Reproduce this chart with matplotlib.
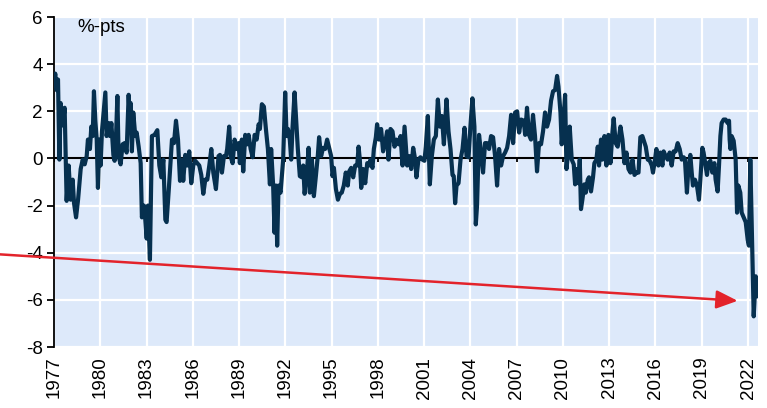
import numpy as np
import matplotlib
matplotlib.use("Agg")
import matplotlib.pyplot as plt

plt.rcParams['font.family'] = ['Liberation Sans', 'DejaVu Sans']

# series (decimal year, %-pts)
years = [
    1977.00, 1977.08, 1977.17, 1977.26, 1977.35, 1977.43, 1977.56, 1977.69, 1977.82, 1977.95,
    1978.08, 1978.21, 1978.30, 1978.43, 1978.56, 1978.73, 1978.86, 1978.99, 1979.12, 1979.20,
    1979.33, 1979.42, 1979.51, 1979.59, 1979.68, 1979.77, 1979.85, 1979.94, 1980.02, 1980.11,
    1980.24, 1980.33, 1980.41, 1980.54, 1980.63, 1980.72, 1980.85, 1980.93, 1981.02, 1981.11,
    1981.19, 1981.32, 1981.45, 1981.58, 1981.71, 1981.84, 1981.93, 1981.97, 1982.05, 1982.14,
    1982.27, 1982.36, 1982.49, 1982.62, 1982.70, 1982.83, 1982.92, 1983.01, 1983.09, 1983.22,
    1983.35, 1983.52, 1983.70, 1983.83, 1983.96, 1984.09, 1984.22, 1984.30, 1984.45, 1984.65,
    1984.78, 1984.91, 1985.04, 1985.17, 1985.30, 1985.38, 1985.51, 1985.64, 1985.77, 1985.90,
    1986.03, 1986.16, 1986.29, 1986.42, 1986.55, 1986.68, 1986.81, 1986.94, 1987.07, 1987.20,
    1987.33, 1987.50, 1987.67, 1987.76, 1987.89, 1988.02, 1988.15, 1988.23, 1988.36, 1988.45,
    1988.58, 1988.71, 1988.84, 1988.97, 1989.05, 1989.18, 1989.27, 1989.40, 1989.53, 1989.62,
    1989.75, 1989.88, 1990.01, 1990.14, 1990.27, 1990.35, 1990.48, 1990.61, 1990.74, 1990.87,
    1991.00, 1991.08, 1991.21, 1991.30, 1991.39, 1991.47, 1991.56, 1991.69, 1991.86, 1991.99,
    1992.08, 1992.17, 1992.29, 1992.38, 1992.47, 1992.60, 1992.73, 1992.81, 1992.94, 1993.07,
    1993.16, 1993.25, 1993.38, 1993.51, 1993.59, 1993.72, 1993.85, 1993.98, 1994.11, 1994.19,
    1994.32, 1994.45, 1994.58, 1994.71, 1994.84, 1994.97, 1995.06, 1995.15, 1995.28, 1995.41,
    1995.54, 1995.66, 1995.79, 1995.92, 1996.05, 1996.14, 1996.27, 1996.40, 1996.53, 1996.66,
    1996.75, 1996.83, 1996.92, 1997.05, 1997.18, 1997.31, 1997.43, 1997.52, 1997.65, 1997.74,
    1997.87, 1997.95, 1998.08, 1998.21, 1998.34, 1998.47, 1998.60, 1998.69, 1998.82, 1998.95,
    1999.08, 1999.21, 1999.34, 1999.47, 1999.60, 1999.73, 1999.90, 2000.03, 2000.16, 2000.29,
    2000.42, 2000.50, 2000.63, 2000.76, 2000.89, 2001.02, 2001.11, 2001.24, 2001.37, 2001.50,
    2001.63, 2001.76, 2001.89, 2002.02, 2002.15, 2002.28, 2002.45, 2002.58, 2002.71, 2002.84,
    2002.92, 2003.01, 2003.10, 2003.23, 2003.36, 2003.49, 2003.62, 2003.75, 2003.88, 2004.00,
    2004.13, 2004.26, 2004.35, 2004.43, 2004.56, 2004.69, 2004.82, 2004.95, 2005.08, 2005.21,
    2005.34, 2005.47, 2005.60, 2005.73, 2005.86, 2005.99, 2006.12, 2006.25, 2006.38, 2006.51,
    2006.64, 2006.77, 2006.90, 2007.03, 2007.16, 2007.29, 2007.46, 2007.55, 2007.67, 2007.80,
    2007.93, 2008.06, 2008.19, 2008.32, 2008.45, 2008.58, 2008.71, 2008.84, 2008.97, 2009.10,
    2009.23, 2009.36, 2009.49, 2009.62, 2009.71, 2009.84, 2009.92, 2010.01, 2010.14, 2010.23,
    2010.36, 2010.44, 2010.57, 2010.70, 2010.79, 2010.88, 2011.01, 2011.09, 2011.17, 2011.26,
    2011.39, 2011.48, 2011.61, 2011.69, 2011.82, 2011.95, 2012.04, 2012.17, 2012.26, 2012.34,
    2012.47, 2012.56, 2012.69, 2012.82, 2012.95, 2013.08, 2013.21, 2013.29, 2013.42, 2013.55,
    2013.73, 2013.86, 2013.99, 2014.12, 2014.25, 2014.38, 2014.51, 2014.64, 2014.77, 2014.90,
    2015.02, 2015.15, 2015.37, 2015.50, 2015.63, 2015.76, 2015.84, 2015.97, 2016.06, 2016.19,
    2016.32, 2016.45, 2016.53, 2016.66, 2016.79, 2016.92, 2017.05, 2017.18, 2017.31, 2017.44,
    2017.57, 2017.70, 2017.83, 2017.91, 2018.04, 2018.13, 2018.26, 2018.35, 2018.43, 2018.56,
    2018.69, 2018.82, 2018.91, 2019.04, 2019.12, 2019.25, 2019.34, 2019.43, 2019.56, 2019.69,
    2019.82, 2019.90, 2020.03, 2020.12, 2020.21, 2020.29, 2020.42, 2020.55, 2020.68, 2020.77,
    2020.81, 2020.86, 2020.94, 2021.07, 2021.20, 2021.29, 2021.37, 2021.50, 2021.59, 2021.72,
    2021.85, 2021.98, 2022.06, 2022.15, 2022.37, 2022.50, 2022.60,
]
values = [
    3.1, 3.6, 2.9, 3.35, -0.05, 2.35, 1.4, 2.15, -1.8, -0.3,
    -1.75, -0.9, -1.9, -2.5, -1.75, -0.45, -0.05, -0.25, 0.1, 0.8,
    0.4, 1.35, 0.95, 2.85, 1.6, 0.8, -1.25, 0.8, -0.3, 1.15,
    2.1, 2.8, 0.95, 1.5, 0.95, 1.5, 0.15, -0.1, 0.9, 2.65,
    0.1, -0.25, 0.6, 0.65, 0.25, 2.7, 1.5, 2.35, 0.3, 1.95,
    0.95, 1.1, 0.5, -0.2, -2.5, -2.0, -2.6, -3.4, -2.0, -4.3,
    0.95, 1.0, 1.2, -0.3, -0.8, -0.05, -2.6, -2.7, -1.25, 0.8,
    0.65, 1.6, 0.8, -0.95, -0.05, -0.95, 0.15, -0.3, 0.3, -1.05,
    -0.3, -0.1, -0.2, -0.3, -0.7, -1.5, -0.9, -0.9, -0.3, 0.4,
    -0.6, -1.3, 0.1, 0.15, -0.6, 0.1, 0.1, 0.4, 1.35, 0.1,
    -0.2, 0.8, 0.4, 0.65, -0.2, 0.8, -0.55, 1.0, 0.6, 1.0,
    0.4, 0.05, 1.0, 0.8, 1.45, 1.25, 2.3, 2.2, 1.25, 0.4,
    -1.1, 0.4, -1.15, -3.15, -1.15, -3.7, -1.15, -1.45, -0.05, 2.8,
    0.95, 1.25, 0.8, -0.05, 1.35, 2.8, 1.35, 0.4, -0.75, -0.8,
    -0.3, -1.5, -0.75, 0.45, -1.45, -0.05, -1.6, -0.75, 0.15, 0.9,
    0.1, 0.45, 0.4, 0.8, 0.45, 0.1, -0.75, -0.4, -1.3, -1.75,
    -1.5, -1.45, -1.15, -0.6, -1.15, -0.55, -0.4, -0.8, -0.3, -0.3,
    0.5, -0.05, -1.25, -0.45, -1.05, -0.2, -0.3, -0.05, -0.4, 0.4,
    0.9, 1.45, 0.8, 1.25, 0.3, 0.65, 1.15, -0.05, 1.25, 1.15,
    0.5, 0.8, 0.6, 0.95, -0.3, 1.35, -0.3, 0.1, -0.45, 0.45,
    -0.05, -0.8, -0.05, 0.05, -0.05, -0.1, 0.5, 1.8, -1.1, 0.1,
    0.8, 0.95, 2.5, 1.35, 1.8, 0.6, 2.5, 1.15, 0.4, -0.7,
    -0.75, -1.9, -1.15, -1.05, -0.05, 0.4, 1.3, 0.1, 0.05, 1.35,
    2.55, 1.35, -2.8, -2.0, 1.0, 0.25, -0.6, 0.65, 0.65, 0.4,
    0.95, 0.9, 0.1, -1.15, 0.4, -0.3, 0.1, 0.25, 0.45, 0.95,
    1.85, 0.65, 1.95, 2.0, 1.1, 1.65, 1.6, 1.0, 2.15, 1.0,
    0.8, 1.85, 0.95, -0.55, 0.65, 0.6, 1.15, 1.95, 1.35, 1.65,
    2.45, 2.85, 2.9, 3.5, 3.05, 1.95, 0.6, 1.35, 2.7, -0.45,
    0.4, 1.35, -0.05, -0.25, -1.1, -0.45, -1.05, -0.05, -2.15, -1.75,
    -1.1, -1.45, -0.9, -0.8, -1.4, -0.8, -0.2, -0.05, 0.5, -0.3,
    0.8, -0.05, 0.95, -0.3, 1.0, -0.2, 1.1, 1.7, 0.65, 0.5,
    1.35, 0.8, -0.2, 0.25, -0.45, -0.6, -0.05, -0.7, -0.6, -0.6,
    0.9, 0.95, 0.5, -0.05, -0.1, -0.3, -0.6, -0.05, 0.4, -0.3,
    0.25, -0.3, 0.3, 0.1, -0.05, 0.25, -0.3, 0.3, 0.3, 0.65,
    0.4, -0.05, 0.05, -0.05, -1.45, -0.45, 0.15, -0.6, -1.15, -0.9,
    -1.15, -1.75, -0.9, 0.45, 0.25, -0.3, -0.7, -0.2, -0.1, -0.6,
    -0.2, -0.9, -1.4, -0.3, 0.95, 1.5, 1.65, 1.65, 1.5, 1.6,
    0.8, 0.4, 0.95, 0.75, -0.05, -2.3, -1.15, -1.45, -2.3, -2.5,
    -2.7, -3.45, -3.7, -0.05, -6.7, -5.0, -5.85,
]

tick_years = list(range(1977, 2023, 3))
yticks = list(range(-8, 7, 2))

# red arrow: from left of the axes to the 2022 trough
arrow_start = (1973.5, -4.07)
arrow_end = (2021.33, -6.04)

fig = plt.figure(figsize=(7.67, 4.08), dpi=100)
ax = fig.add_axes([0.0704, 0.1495, 0.9179, 0.8088])
ax.set_facecolor('#DDE9FA')

ax.grid(True, color='white', lw=1.6)
ax.set_axisbelow(True)

# zero line with small tick marks
ax.axhline(0, color='black', lw=1.5, zorder=2)
ax.vlines(tick_years, -0.14, 0, color='black', lw=1.3, zorder=2)

ax.plot(years, values, color='#06304F', lw=3.0, solid_joinstyle='round',
        solid_capstyle='round', zorder=3)

ax.set_xlim(1977, 2022.65)
ax.set_ylim(-8, 6)
ax.set_xticks(tick_years)
ax.set_xticklabels([str(y) for y in tick_years], rotation=90, fontsize=13.5)
ax.set_yticks(yticks)
ax.set_yticklabels([str(v) for v in yticks], fontsize=13.5)
ax.tick_params(axis='x', length=0, pad=7)
ax.tick_params(axis='y', length=5, width=1.3, direction='out', pad=3)

for side in ['top', 'right', 'bottom']:
    ax.spines[side].set_visible(False)
ax.spines['left'].set_linewidth(1.3)

ax.text(0.033, 0.993, '%-pts', transform=ax.transAxes, va='top', ha='left', fontsize=13.5)

ax.annotate('', xy=arrow_end, xytext=arrow_start, annotation_clip=False,
            arrowprops=dict(arrowstyle='-|>,head_length=0.65,head_width=0.28',
                            color='#E3232B', lw=1.8, mutation_scale=20,
                            shrinkA=0, shrinkB=0), zorder=4)

fig.savefig('out.png', dpi=100)
